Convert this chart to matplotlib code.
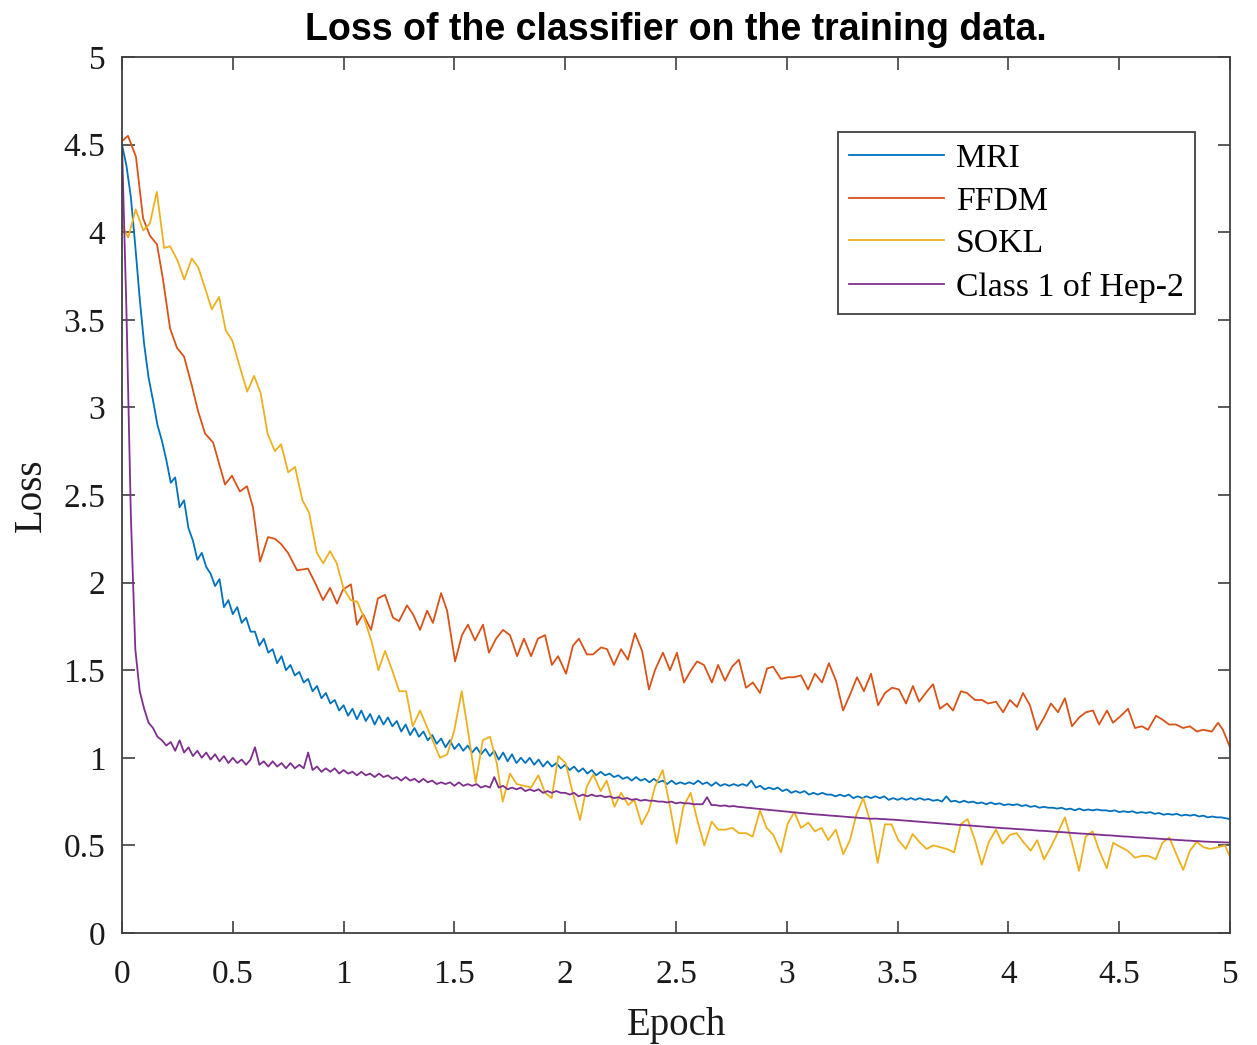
import numpy as np
import matplotlib
matplotlib.use("Agg")
import matplotlib.pyplot as plt

# ---------------- data ----------------
series_names = ["MRI", "FFDM", "SOKL", "Class 1 of Hep-2"]
x_ticks = [0, 0.5, 1, 1.5, 2, 2.5, 3, 3.5, 4, 4.5, 5]
y_ticks = [0, 0.5, 1, 1.5, 2, 2.5, 3, 3.5, 4, 4.5, 5]

# MRI loss, sampled every 0.02 epoch (0 .. 5)
mri_loss = [
    4.50, 4.38, 4.20, 3.92, 3.62, 3.36, 3.17, 3.04, 2.90, 2.81,
    2.70, 2.57, 2.60, 2.43, 2.47, 2.31, 2.24, 2.13, 2.17, 2.09,
    2.05, 1.98, 2.02, 1.86, 1.90, 1.82, 1.86, 1.77, 1.80, 1.72,
    1.72, 1.64, 1.68, 1.60, 1.62, 1.54, 1.58, 1.50, 1.53, 1.47,
    1.49, 1.43, 1.45, 1.38, 1.41, 1.34, 1.37, 1.31, 1.33, 1.27,
    1.30, 1.24, 1.28, 1.22, 1.27, 1.21, 1.25, 1.19, 1.24, 1.19,
    1.23, 1.18, 1.21, 1.15, 1.19, 1.13, 1.17, 1.12, 1.15, 1.10,
    1.13, 1.08, 1.11, 1.06, 1.10, 1.05, 1.08, 1.04, 1.07, 1.03,
    1.06, 1.02, 1.05, 1.01, 1.04, 0.99, 1.03, 0.98, 1.02, 0.97,
    1.00, 0.97, 1.00, 0.96, 0.99, 0.95, 0.98, 0.95, 0.97, 0.94,
    0.96, 0.93, 0.95, 0.92, 0.94, 0.91, 0.93, 0.90, 0.92, 0.90,
    0.91, 0.89, 0.90, 0.88, 0.89, 0.87, 0.89, 0.87, 0.88, 0.86,
    0.88, 0.86, 0.87, 0.85, 0.87, 0.85, 0.86, 0.85, 0.86, 0.85,
    0.87, 0.85, 0.86, 0.84, 0.86, 0.84, 0.85, 0.84, 0.85, 0.84,
    0.85, 0.84, 0.87, 0.83, 0.84, 0.82, 0.83, 0.82, 0.83, 0.81,
    0.82, 0.80, 0.81, 0.80, 0.81, 0.79, 0.80, 0.79, 0.80, 0.79,
    0.79, 0.78, 0.79, 0.78, 0.79, 0.77, 0.78, 0.77, 0.78, 0.77,
    0.78, 0.77, 0.78, 0.76, 0.77, 0.76, 0.77, 0.76, 0.77, 0.76,
    0.77, 0.76, 0.765, 0.755, 0.76, 0.75, 0.78, 0.75, 0.755, 0.745,
    0.755, 0.745, 0.75, 0.74, 0.745, 0.735, 0.745, 0.735, 0.74, 0.73,
    0.735, 0.73, 0.735, 0.725, 0.73, 0.72, 0.725, 0.715, 0.72, 0.715,
    0.715, 0.71, 0.715, 0.705, 0.71, 0.70, 0.71, 0.70, 0.705, 0.70,
    0.705, 0.70, 0.70, 0.695, 0.70, 0.69, 0.695, 0.69, 0.695, 0.685,
    0.69, 0.685, 0.69, 0.68, 0.685, 0.675, 0.68, 0.675, 0.68, 0.67,
    0.675, 0.67, 0.675, 0.665, 0.67, 0.66, 0.665, 0.66, 0.66, 0.655, 0.65,
]

# Class 1 of Hep-2 loss, sampled every 0.02 epoch (0 .. 5)
hep2_loss = [
    4.50, 3.55, 2.38, 1.62, 1.38, 1.28, 1.20, 1.17, 1.12, 1.10,
    1.07, 1.09, 1.04, 1.10, 1.03, 1.06, 1.01, 1.04, 1.00, 1.03,
    0.99, 1.02, 0.98, 1.01, 0.97, 1.00, 0.97, 0.99, 0.96, 0.99,
    1.06, 0.96, 0.98, 0.95, 0.98, 0.95, 0.97, 0.94, 0.97, 0.94,
    0.96, 0.94, 1.03, 0.93, 0.95, 0.92, 0.94, 0.92, 0.94, 0.91,
    0.93, 0.91, 0.92, 0.90, 0.92, 0.90, 0.91, 0.89, 0.91, 0.89,
    0.90, 0.88, 0.89, 0.87, 0.89, 0.87, 0.88, 0.86, 0.88, 0.86,
    0.87, 0.85, 0.86, 0.85, 0.86, 0.84, 0.86, 0.84, 0.85, 0.84,
    0.85, 0.83, 0.84, 0.83, 0.89, 0.83, 0.84, 0.82, 0.83, 0.82,
    0.83, 0.81, 0.82, 0.81, 0.82, 0.80, 0.81, 0.80, 0.81, 0.80,
    0.80, 0.79, 0.80, 0.78, 0.79, 0.78, 0.79, 0.78, 0.785, 0.775,
    0.78, 0.77, 0.775, 0.765, 0.77, 0.76, 0.765, 0.755, 0.76, 0.755,
    0.755, 0.75, 0.75, 0.745, 0.75, 0.74, 0.745, 0.74, 0.74, 0.735,
    0.735, 0.735, 0.775, 0.73, 0.73, 0.725, 0.728, 0.722, 0.725, 0.72,
    0.718, 0.715, 0.713, 0.71, 0.708, 0.705, 0.703, 0.70, 0.698, 0.695,
    0.693, 0.69, 0.688, 0.685, 0.683, 0.68, 0.678, 0.676, 0.674, 0.672,
    0.67, 0.668, 0.666, 0.664, 0.662, 0.66, 0.658, 0.656, 0.654, 0.652,
    0.653, 0.651, 0.650, 0.648, 0.647, 0.645, 0.643, 0.641, 0.639, 0.637,
    0.635, 0.633, 0.631, 0.629, 0.627, 0.625, 0.623, 0.621, 0.619, 0.617,
    0.616, 0.614, 0.612, 0.610, 0.608, 0.606, 0.604, 0.602, 0.600, 0.598,
    0.597, 0.595, 0.593, 0.592, 0.590, 0.588, 0.586, 0.584, 0.583, 0.581,
    0.579, 0.577, 0.576, 0.574, 0.572, 0.570, 0.568, 0.567, 0.565, 0.563,
    0.562, 0.560, 0.558, 0.557, 0.555, 0.553, 0.551, 0.550, 0.548, 0.546,
    0.545, 0.543, 0.541, 0.540, 0.538, 0.536, 0.535, 0.533, 0.531, 0.530,
    0.528, 0.527, 0.525, 0.524, 0.522, 0.521, 0.520, 0.519, 0.518, 0.517, 0.516,
]

ffdm_epoch = [
    0.000, 0.027, 0.063, 0.095, 0.126, 0.158, 0.185, 0.217, 0.248, 0.280,
    0.316, 0.343, 0.375, 0.411, 0.465, 0.496, 0.532, 0.564, 0.591, 0.623,
    0.659, 0.690, 0.718, 0.749, 0.790, 0.839, 0.871, 0.907, 0.939, 0.970,
    0.997, 1.033, 1.060, 1.088, 1.124, 1.155, 1.187, 1.223, 1.250, 1.286,
    1.313, 1.345, 1.377, 1.403, 1.440, 1.467, 1.503, 1.534, 1.561, 1.593,
    1.629, 1.656, 1.688, 1.719, 1.751, 1.783, 1.814, 1.846, 1.877, 1.909,
    1.940, 1.968, 2.004, 2.035, 2.062, 2.098, 2.125, 2.162, 2.189, 2.220,
    2.252, 2.283, 2.315, 2.347, 2.378, 2.405, 2.441, 2.473, 2.504, 2.536,
    2.568, 2.595, 2.626, 2.662, 2.690, 2.721, 2.753, 2.784, 2.816, 2.847,
    2.879, 2.911, 2.938, 2.974, 3.005, 3.033, 3.064, 3.096, 3.127, 3.159,
    3.190, 3.222, 3.254, 3.285, 3.317, 3.348, 3.380, 3.412, 3.443, 3.475,
    3.506, 3.538, 3.569, 3.597, 3.633, 3.660, 3.691, 3.723, 3.750, 3.786,
    3.813, 3.849, 3.881, 3.908, 3.944, 3.976, 4.007, 4.039, 4.066, 4.097,
    4.129, 4.161, 4.192, 4.224, 4.255, 4.287, 4.319, 4.350, 4.382, 4.409,
    4.445, 4.472, 4.508, 4.540, 4.571, 4.603, 4.630, 4.666, 4.693, 4.725,
    4.756, 4.788, 4.819, 4.851, 4.878, 4.918, 4.946, 4.968, 5.000,
]
ffdm_loss = [
    4.52, 4.55, 4.43, 4.08, 3.98, 3.93, 3.73, 3.45, 3.34, 3.29,
    3.12, 2.98, 2.85, 2.80, 2.56, 2.61, 2.52, 2.55, 2.43, 2.12,
    2.26, 2.25, 2.22, 2.17, 2.07, 2.08, 2.00, 1.90, 1.97, 1.88,
    1.96, 1.99, 1.76, 1.82, 1.73, 1.91, 1.93, 1.80, 1.78, 1.87,
    1.82, 1.73, 1.84, 1.77, 1.94, 1.84, 1.55, 1.70, 1.76, 1.67,
    1.76, 1.60, 1.68, 1.73, 1.70, 1.58, 1.68, 1.58, 1.68, 1.70,
    1.53, 1.58, 1.48, 1.64, 1.68, 1.59, 1.59, 1.63, 1.62, 1.53,
    1.62, 1.56, 1.71, 1.61, 1.39, 1.50, 1.60, 1.50, 1.60, 1.43,
    1.50, 1.55, 1.53, 1.43, 1.53, 1.44, 1.52, 1.56, 1.40, 1.43,
    1.37, 1.51, 1.52, 1.45, 1.46, 1.46, 1.47, 1.39, 1.48, 1.43,
    1.54, 1.44, 1.27, 1.36, 1.46, 1.38, 1.48, 1.30, 1.37, 1.40,
    1.39, 1.31, 1.41, 1.32, 1.38, 1.42, 1.28, 1.31, 1.27, 1.38,
    1.37, 1.33, 1.33, 1.31, 1.32, 1.26, 1.33, 1.29, 1.37, 1.30,
    1.16, 1.23, 1.31, 1.26, 1.34, 1.18, 1.23, 1.26, 1.27, 1.19,
    1.27, 1.20, 1.24, 1.28, 1.17, 1.18, 1.16, 1.24, 1.22, 1.19,
    1.19, 1.17, 1.18, 1.15, 1.16, 1.15, 1.20, 1.16, 1.06,
]

sokl_epoch = [
    0.000, 0.028, 0.062, 0.096, 0.126, 0.157, 0.190, 0.217, 0.250, 0.281,
    0.315, 0.344, 0.375, 0.405, 0.438, 0.468, 0.498, 0.532, 0.565, 0.596,
    0.626, 0.657, 0.690, 0.718, 0.750, 0.781, 0.814, 0.844, 0.879, 0.908,
    0.939, 0.969, 0.999, 1.032, 1.062, 1.092, 1.127, 1.157, 1.187, 1.222,
    1.251, 1.282, 1.312, 1.345, 1.375, 1.405, 1.435, 1.468, 1.500, 1.533,
    1.563, 1.596, 1.628, 1.661, 1.691, 1.718, 1.751, 1.781, 1.815, 1.846,
    1.879, 1.909, 1.939, 1.969, 2.002, 2.034, 2.067, 2.097, 2.127, 2.160,
    2.187, 2.222, 2.252, 2.285, 2.312, 2.345, 2.378, 2.405, 2.440, 2.473,
    2.503, 2.533, 2.566, 2.596, 2.628, 2.661, 2.691, 2.724, 2.754, 2.784,
    2.816, 2.846, 2.879, 2.909, 2.939, 2.974, 3.004, 3.034, 3.064, 3.097,
    3.127, 3.157, 3.187, 3.221, 3.255, 3.285, 3.315, 3.345, 3.380, 3.410,
    3.443, 3.473, 3.503, 3.537, 3.568, 3.598, 3.631, 3.661, 3.691, 3.722,
    3.755, 3.785, 3.816, 3.849, 3.880, 3.912, 3.944, 3.974, 4.007, 4.037,
    4.070, 4.101, 4.130, 4.161, 4.191, 4.222, 4.255, 4.286, 4.319, 4.349,
    4.380, 4.410, 4.444, 4.473, 4.507, 4.538, 4.571, 4.602, 4.631, 4.665,
    4.695, 4.726, 4.756, 4.789, 4.819, 4.850, 4.880, 4.910, 4.947, 4.977,
    5.000,
]
sokl_loss = [
    4.04, 3.97, 4.13, 4.01, 4.05, 4.23, 3.91, 3.92, 3.84, 3.73,
    3.85, 3.80, 3.68, 3.56, 3.63, 3.44, 3.38, 3.23, 3.09, 3.18,
    3.08, 2.85, 2.75, 2.79, 2.63, 2.66, 2.47, 2.40, 2.17, 2.11,
    2.18, 2.11, 1.97, 1.90, 1.89, 1.80, 1.66, 1.50, 1.61, 1.49,
    1.38, 1.38, 1.18, 1.27, 1.18, 1.09, 1.00, 1.02, 1.16, 1.38,
    1.14, 0.86, 1.10, 1.12, 0.97, 0.75, 0.91, 0.85, 0.84, 0.83,
    0.90, 0.80, 0.77, 1.01, 0.97, 0.80, 0.645, 0.835, 0.905, 0.81,
    0.87, 0.72, 0.80, 0.73, 0.76, 0.62, 0.70, 0.835, 0.93, 0.72,
    0.51, 0.72, 0.80, 0.645, 0.50, 0.635, 0.59, 0.59, 0.60, 0.57,
    0.57, 0.55, 0.70, 0.60, 0.56, 0.46, 0.625, 0.69, 0.60, 0.63,
    0.58, 0.60, 0.53, 0.59, 0.45, 0.53, 0.68, 0.77, 0.62, 0.40,
    0.62, 0.62, 0.53, 0.48, 0.565, 0.52, 0.48, 0.50, 0.49, 0.48,
    0.46, 0.62, 0.65, 0.53, 0.39, 0.52, 0.59, 0.51, 0.56, 0.57,
    0.515, 0.47, 0.53, 0.42, 0.49, 0.57, 0.66, 0.52, 0.355, 0.55,
    0.58, 0.47, 0.37, 0.515, 0.49, 0.47, 0.43, 0.44, 0.44, 0.42,
    0.515, 0.545, 0.455, 0.36, 0.47, 0.52, 0.49, 0.48, 0.49, 0.50,
    0.435,
]

colors = ["#0072BD", "#D95319", "#EDB120", "#7E2F8E"]

# ---------------- figure ----------------
fig = plt.figure(figsize=(12.57, 10.45), dpi=100)
ax = fig.add_axes([122 / 1257, 1 - 933 / 1045, 1108 / 1257, 876 / 1045])

serif = ["Liberation Serif", "DejaVu Serif"]
lw = 1.3
frame_col = "#404040"

mri_epoch = np.linspace(0, 5, len(mri_loss))
hep2_epoch = np.linspace(0, 5, len(hep2_loss))

ax.plot(mri_epoch, mri_loss, color=colors[0], lw=lw, label=series_names[0])
ax.plot(ffdm_epoch, ffdm_loss, color=colors[1], lw=lw, label=series_names[1])
ax.plot(sokl_epoch, sokl_loss, color=colors[2], lw=lw, label=series_names[2])
ax.plot(hep2_epoch, hep2_loss, color=colors[3], lw=lw, label=series_names[3])

ax.set_xlim(0, 5)
ax.set_ylim(0, 5)
ax.set_xticks(x_ticks)
ax.set_yticks(y_ticks)
ax.set_xticklabels([f"{t:g}" for t in x_ticks], family=serif, fontsize=24)
ax.set_yticklabels([f"{t:g}" for t in y_ticks], family=serif, fontsize=24)
ax.tick_params(direction="in", length=9, width=1.2, colors=frame_col,
               labelcolor="#1a1a1a", top=True, right=True)
ax.tick_params(axis="x", pad=19)
ax.tick_params(axis="y", pad=12)
for sp in ax.spines.values():
    sp.set_color(frame_col)
    sp.set_linewidth(1.3)

ax.set_xlabel("Epoch", family=serif, fontsize=28, labelpad=12, color="#1a1a1a")
ax.set_ylabel("Loss", family=serif, fontsize=28, labelpad=10, color="#1a1a1a")
ax.set_title("Loss of the classifier on the training data.",
             family=["Liberation Sans Narrow", "Liberation Sans", "DejaVu Sans"],
             fontsize=27, fontweight="bold", pad=12)

leg = ax.legend(loc="upper right",
                bbox_to_anchor=((1195 - 122) / 1108, (933 - 132) / 876),
                borderaxespad=0, prop={"family": serif, "size": 24.3},
                handlelength=2.8, handletextpad=0.36, labelspacing=0.36,
                borderpad=0.33, fancybox=False, framealpha=1)
leg.get_frame().set_edgecolor(frame_col)
leg.get_frame().set_linewidth(1.3)

fig.savefig("out.png", dpi=100)
